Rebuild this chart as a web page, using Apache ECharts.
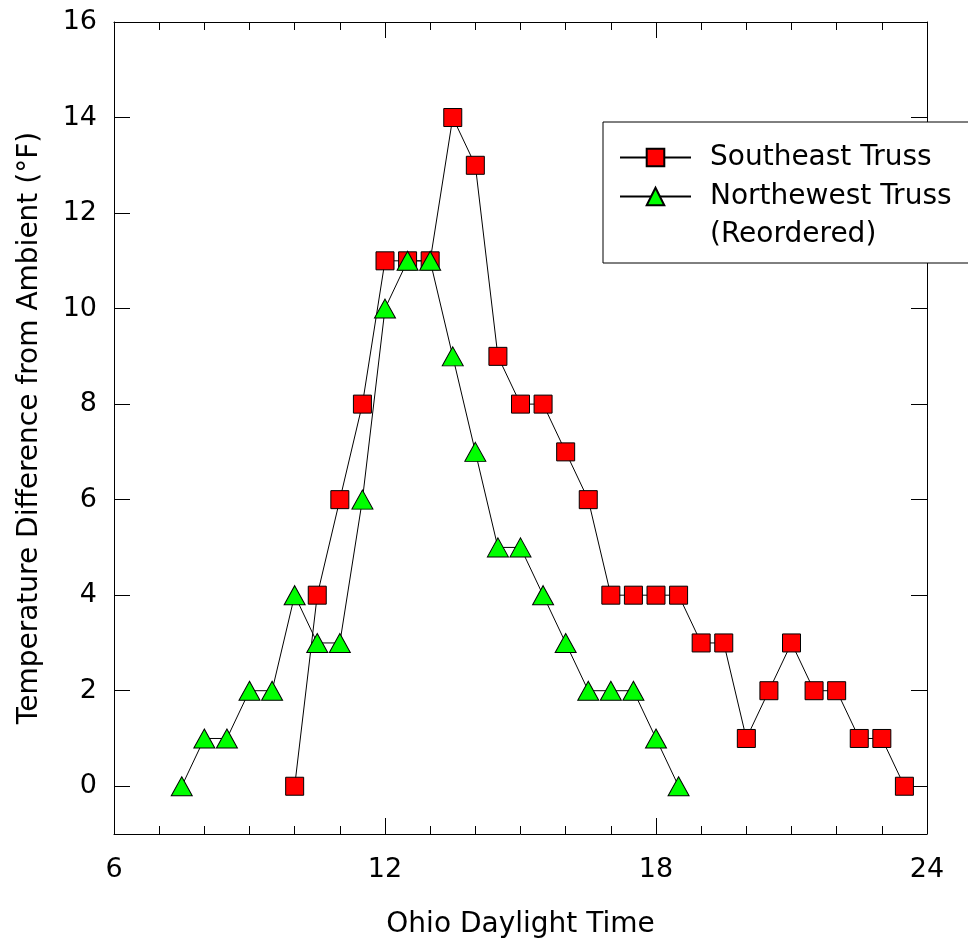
<!DOCTYPE html>
<html>
<head>
<meta charset="utf-8">
<script src="https://cdn.jsdelivr.net/npm/echarts@6/dist/echarts.min.js"></script>
<style>
html,body{margin:0;padding:0;background:#fff;}
#chart{width:968px;height:942px;}
</style>
</head>
<body>
<div id="chart"></div>
<script>
// Southeast truss (squares)
var seTime = [10,10.5,11,11.5,12,12.5,13,13.5,14,14.5,15,15.5,16,16.5,17,17.5,18,18.5,19,19.5,20,20.5,21,21.5,22,22.5,23,23.5];
var seTemp = [0,4,6,8,11,11,11,14,13,9,8,8,7,6,4,4,4,4,3,3,1,2,3,2,2,1,1,0];
// Northwest truss (triangles)
var nwTime = [7.5,8,8.5,9,9.5,10,10.5,11,11.5,12,12.5,13,13.5,14,14.5,15,15.5,16,16.5,17,17.5,18,18.5];
var nwTemp = [0,1,1,2,2,4,3,3,6,10,11,11,9,7,5,5,4,3,2,2,2,1,0];
var yTicks = [0,2,4,6,8,10,12,14,16];

function pairs(xs, ys){
    var out = [];
    for (var i = 0; i < xs.length; i++) out.push([xs[i], ys[i]]);
    return out;
}

var font = 'DejaVu Sans';
var chart = echarts.init(document.getElementById('chart'));
chart.setOption({
    animation: false,
    textStyle: {fontFamily: font},
    grid: {left: 114, right: 41, top: 22, bottom: 108, outerBoundsMode: 'none'},
    legend: {
        orient: 'vertical',
        left: 619,
        top: 138,
        itemWidth: 71,
        itemHeight: 22,
        itemGap: 0,
        padding: 0,
        z: 20,
        data: ['Southeast Truss', 'Northewest Truss'],
        textStyle: {fontFamily: font, fontSize: 28, color: '#000', lineHeight: 39, padding: [0,0,0,14]}
    },
    graphic: [
        {type: 'rect', z: 15, shape: {x: 603, y: 122, width: 380, height: 141},
         style: {fill: '#fff', stroke: '#000', lineWidth: 1}},
        {type: 'text', z: 20, x: 710, y: 235,
         style: {text: '(Reordered)', font: '28px "DejaVu Sans"', fill: '#000', verticalAlign: 'middle'}}
    ],
    xAxis: [{
        type: 'value', min: 6, max: 24, interval: 6,
        name: 'Ohio Daylight Time', nameLocation: 'middle', nameGap: 77,
        nameTextStyle: {fontSize: 28, color: '#000'},
        axisLine: {onZero: false, lineStyle: {color: '#000', width: 1}},
        axisTick: {inside: true, length: 16, lineStyle: {color: '#000'}},
        minorTick: {show: true, splitNumber: 6, length: 8, lineStyle: {color: '#000'}},
        axisLabel: {fontSize: 27, color: '#000', margin: 22},
        splitLine: {show: false}
    }, {
        type: 'value', min: 6, max: 24, interval: 6, position: 'top',
        axisLine: {onZero: false, lineStyle: {color: '#000', width: 1}},
        axisTick: {inside: true, length: 16, lineStyle: {color: '#000'}},
        minorTick: {show: true, splitNumber: 6, length: 8, lineStyle: {color: '#000'}},
        axisLabel: {show: false},
        splitLine: {show: false}
    }],
    yAxis: [{
        type: 'value', min: -1, max: 16,
        name: 'Temperature Difference from Ambient (°F)', nameLocation: 'middle', nameGap: 70,
        nameTextStyle: {fontSize: 28, color: '#000'},
        axisLine: {show: true, onZero: false, lineStyle: {color: '#000', width: 1}},
        axisTick: {show: true, inside: true, length: 16, customValues: yTicks, lineStyle: {color: '#000'}},
        axisLabel: {fontSize: 27, color: '#000', margin: 17, customValues: yTicks},
        splitLine: {show: false}
    }, {
        type: 'value', min: -1, max: 16, position: 'right',
        axisLine: {show: true, onZero: false, lineStyle: {color: '#000', width: 1}},
        axisTick: {show: true, inside: true, length: 16, customValues: yTicks, lineStyle: {color: '#000'}},
        axisLabel: {show: false},
        splitLine: {show: false}
    }],
    series: [
        {
            name: 'Southeast Truss',
            type: 'line',
            data: pairs(seTime, seTemp),
            symbol: 'rect',
            symbolSize: 18,
            lineStyle: {color: '#000', width: 1},
            itemStyle: {color: '#ff0000', borderColor: '#000', borderWidth: 1}
        },
        {
            name: 'Northewest Truss',
            type: 'line',
            data: pairs(nwTime, nwTemp),
            symbol: 'triangle',
            symbolSize: [21, 19],
            lineStyle: {color: '#000', width: 1},
            itemStyle: {color: '#00ff00', borderColor: '#000', borderWidth: 1}
        }
    ]
});
</script>
</body>
</html>
